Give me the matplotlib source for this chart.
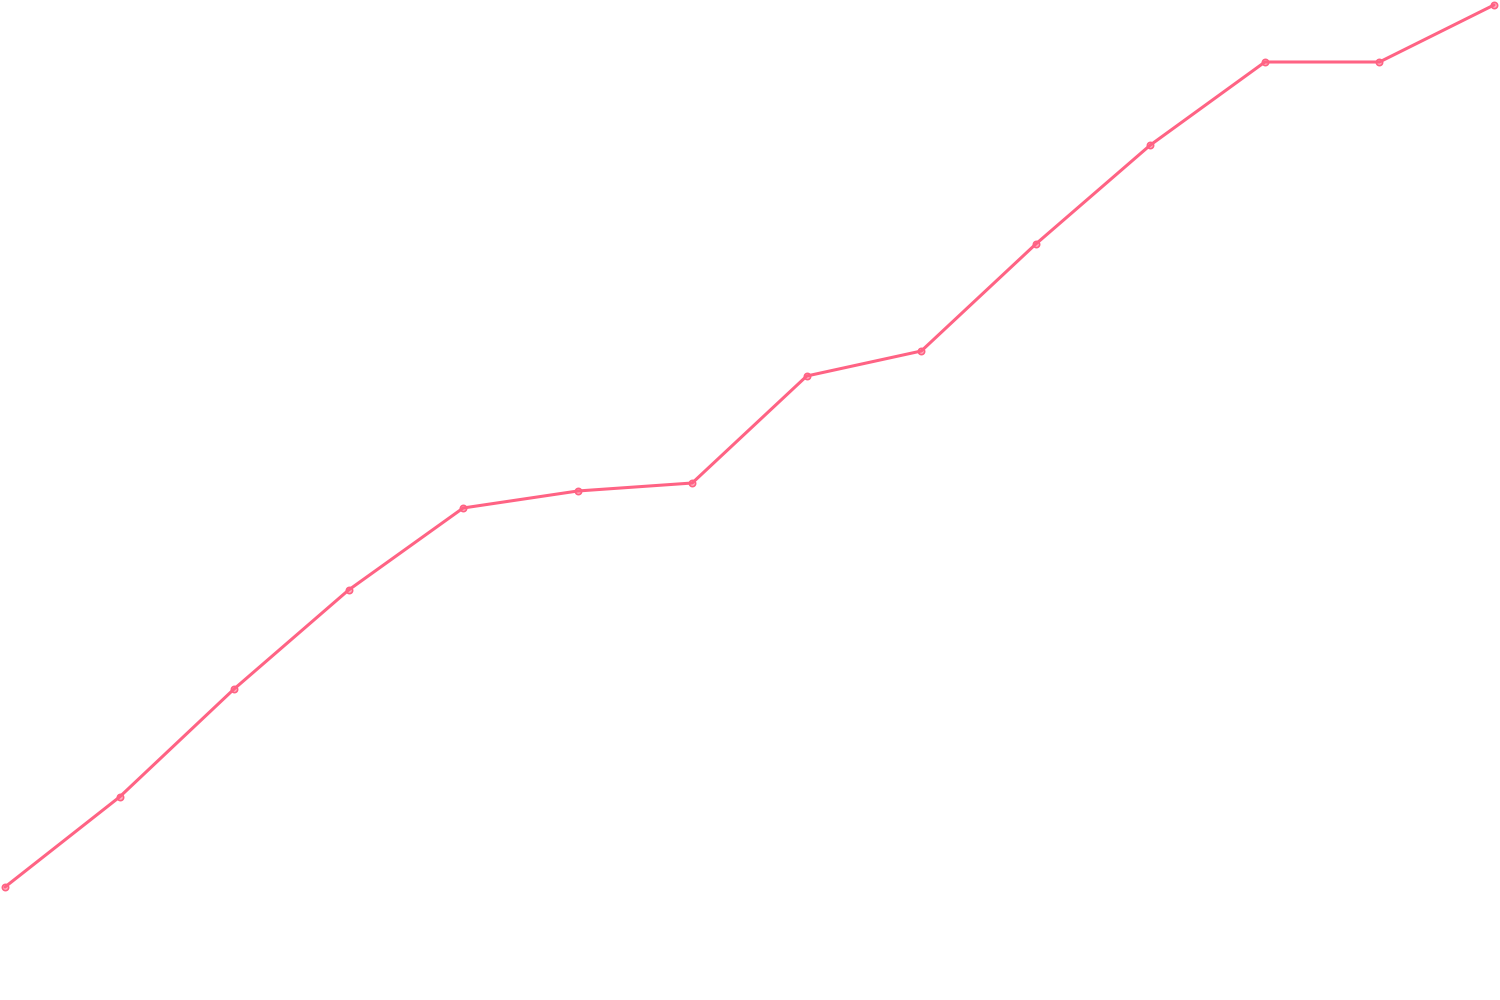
import matplotlib
matplotlib.use("Agg")
import matplotlib.pyplot as plt

# 數值讀自參考圖（畫布 1000 高，值 = 1000 - 像素 y）
steps = list(range(14))
values = [113, 203, 311, 410, 492, 509, 517, 624, 649, 756, 855, 938, 938, 995]

LINE = "#ff6384"

fig = plt.figure(figsize=(15, 10), dpi=100)
ax = fig.add_axes([0, 0, 1, 1])
ax.plot(steps, values, color=LINE, lw=2.2, solid_capstyle="round",
        marker="o", ms=4.5, mfc=(1, 0.39, 0.52, 0.5), mec=LINE, mew=1.2)
ax.set_xlim(-5 / 114.54, 13 + 6 / 114.54)
ax.set_ylim(0, 1000)
ax.axis("off")

fig.savefig("out.png", dpi=100)
